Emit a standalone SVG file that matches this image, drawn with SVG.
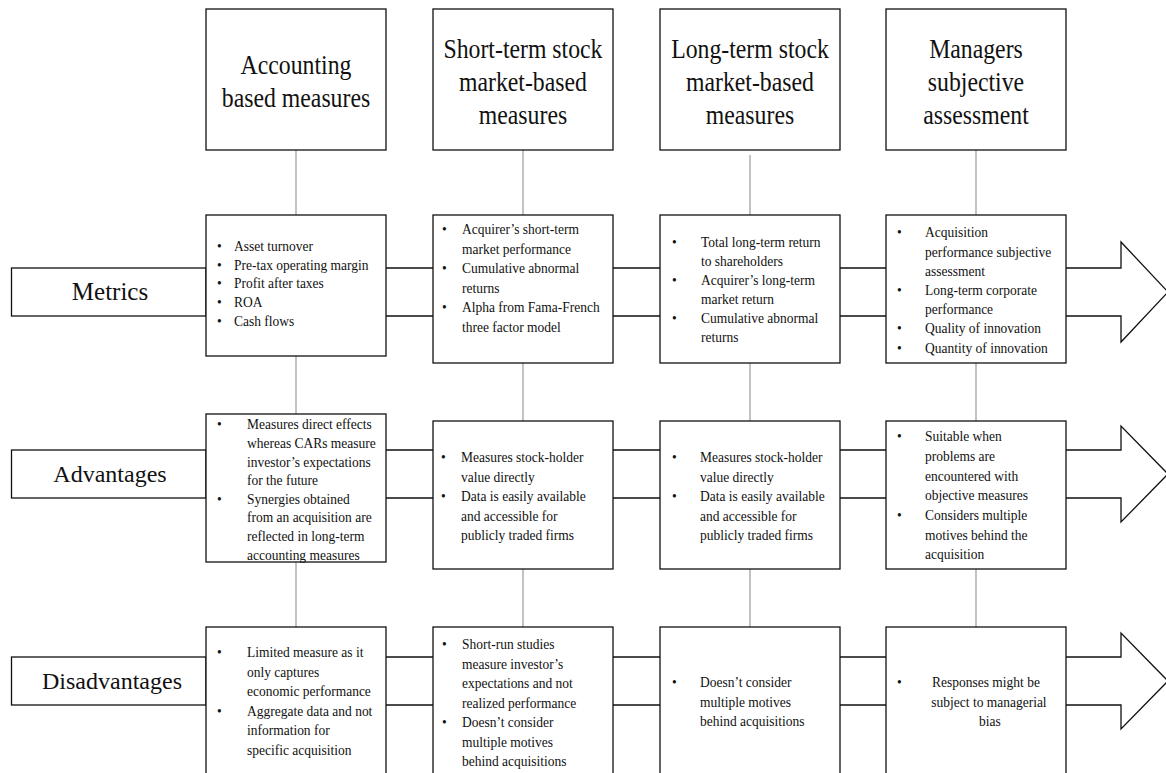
<svg xmlns="http://www.w3.org/2000/svg" width="1166" height="773" viewBox="0 0 1166 773">
<style>
.box{fill:#fff;stroke:#111;stroke-width:1.3}
.vc{stroke:#a3a3a3;stroke-width:1.3;fill:none}
.hc{stroke:#111;stroke-width:1.3;fill:none}
text{font-family:"Liberation Serif","Times New Roman",serif;fill:#111}
.h{font-size:27px;text-anchor:middle}
.lb{font-size:24px;text-anchor:middle}
.t{font-size:15px}
.c{text-anchor:middle}
</style>
<rect width="1166" height="773" fill="#fff"/>
<g id="connectors">
  <path class="vc" d="M296,150V215M296,356V414M296,562V627"/>
  <path class="vc" d="M523,150V215M523,363V421M523,569V627"/>
  <path class="vc" d="M750,155V215M750,363V421M750,569V627"/>
  <path class="vc" d="M976,150V215M976,363V421M976,569V627"/>
  <path class="hc" d="M386,268H433M386,316H433M613,268H660M613,316H660M840,268H886M840,316H886"/>
  <path class="hc" d="M386,450H433M386,498H433M613,450H660M613,498H660M840,450H886M840,498H886"/>
  <path class="hc" d="M386,657H433M386,705H433M613,657H660M613,705H660M840,657H886M840,705H886"/>
  <path class="hc" d="M1066,268H1121V242L1168,292L1121,342V316H1066"/>
  <path class="hc" d="M1066,450H1121V426L1168,474L1121,522V498H1066"/>
  <path class="hc" d="M1066,657H1121V633L1168,681L1121,729V705H1066"/>
</g>
<g id="label-metrics"><rect class="box" x="11.5" y="268" width="194.5" height="48"/><text class="lb" x="110" y="300" style="font-size:25px">Metrics</text></g>
<g id="label-advantages"><rect class="box" x="11.5" y="450" width="194.5" height="48"/><text class="lb" x="110" y="482">Advantages</text></g>
<g id="label-disadvantages"><rect class="box" x="11.5" y="657" width="194.5" height="48"/><text class="lb" x="112" y="689">Disadvantages</text></g>

<g id="head-accounting"><rect class="box" x="206" y="9" width="180" height="141"/><text class="h" transform="matrix(0.88 0 0 1 35.52 0)"><tspan x="296" y="74">Accounting</tspan><tspan x="296" y="107">based measures</tspan></text></g>
<g id="head-short"><rect class="box" x="433" y="9" width="180" height="141"/><text class="h" transform="matrix(0.88 0 0 1 62.76 0)"><tspan x="523" y="58">Short-term stock</tspan><tspan x="523" y="91">market-based</tspan><tspan x="523" y="124">measures</tspan></text></g>
<g id="head-long"><rect class="box" x="660" y="9" width="180" height="141"/><text class="h" transform="matrix(0.88 0 0 1 90 0)"><tspan x="750" y="58">Long-term stock</tspan><tspan x="750" y="91">market-based</tspan><tspan x="750" y="124">measures</tspan></text></g>
<g id="head-managers"><rect class="box" x="886" y="9" width="180" height="141"/><text class="h" transform="matrix(0.88 0 0 1 117.12 0)"><tspan x="976" y="58">Managers</tspan><tspan x="976" y="91">subjective</tspan><tspan x="976" y="124">assessment</tspan></text></g>

<g id="metrics-accounting"><rect class="box" x="206" y="215" width="180" height="141"/>
<text class="t" transform="matrix(0.9 0 0 1 21.7 0)"><tspan x="217" y="251">•</tspan><tspan x="235.9">Asset turnover</tspan><tspan x="217" y="269.7">•</tspan><tspan x="235.9">Pre-tax operating margin</tspan><tspan x="217" y="288.4">•</tspan><tspan x="235.9">Profit after taxes</tspan><tspan x="217" y="307.1">•</tspan><tspan x="235.9">ROA</tspan><tspan x="217" y="325.8">•</tspan><tspan x="235.9">Cash flows</tspan></text></g>
<g id="metrics-short"><rect class="box" x="433" y="215" width="180" height="148"/>
<text class="t" transform="matrix(0.9 0 0 1 44.2 0)"><tspan x="442" y="234.5">•</tspan><tspan x="464.2">Acquirer’s short-term</tspan><tspan x="464.2" y="254">market performance</tspan><tspan x="442" y="273.5">•</tspan><tspan x="464.2">Cumulative abnormal</tspan><tspan x="464.2" y="293">returns</tspan><tspan x="442" y="312.5">•</tspan><tspan x="464.2">Alpha from Fama-French</tspan><tspan x="464.2" y="332">three factor model</tspan></text></g>
<g id="metrics-long"><rect class="box" x="660" y="215" width="180" height="148"/>
<text class="t" transform="matrix(0.9 0 0 1 67.2 0)"><tspan x="672" y="247.5">•</tspan><tspan x="704.2">Total long-term  return</tspan><tspan x="704.2" y="266.5">to shareholders</tspan><tspan x="672" y="285.5">•</tspan><tspan x="704.2">Acquirer’s long-term</tspan><tspan x="704.2" y="304.5">market return</tspan><tspan x="672" y="323.5">•</tspan><tspan x="704.2">Cumulative abnormal</tspan><tspan x="704.2" y="342.5">returns</tspan></text></g>
<g id="metrics-managers"><rect class="box" x="886" y="215" width="180" height="148"/>
<text class="t" transform="matrix(0.9 0 0 1 89.7 0)"><tspan x="897" y="237.5">•</tspan><tspan x="928.1">Acquisition</tspan><tspan x="928.1" y="256.7">performance subjective</tspan><tspan x="928.1" y="275.9">assessment</tspan><tspan x="897" y="295.1">•</tspan><tspan x="928.1">Long-term  corporate</tspan><tspan x="928.1" y="314.3">performance</tspan><tspan x="897" y="333.5">•</tspan><tspan x="928.1">Quality of innovation</tspan><tspan x="897" y="352.7">•</tspan><tspan x="928.1">Quantity of innovation</tspan></text></g>

<g id="adv-accounting"><rect class="box" x="206" y="414" width="180" height="148"/>
<text class="t" transform="matrix(0.9 0 0 1 21.7 0)"><tspan x="217" y="429.5">•</tspan><tspan x="250.3">Measures direct effects</tspan><tspan x="250.3" y="448.1">whereas CARs measure</tspan><tspan x="250.3" y="466.7">investor’s expectations</tspan><tspan x="250.3" y="485.3">for the future</tspan><tspan x="217" y="503.9">•</tspan><tspan x="250.3">Synergies  obtained</tspan><tspan x="250.3" y="522.5">from an acquisition are</tspan><tspan x="250.3" y="541.1">reflected in long-term</tspan><tspan x="250.3" y="559.7">accounting measures</tspan></text></g>
<g id="adv-short"><rect class="box" x="433" y="421" width="180" height="148"/>
<text class="t" transform="matrix(0.9 0 0 1 44.1 0)"><tspan x="441" y="462.5">•</tspan><tspan x="463.2">Measures stock-holder</tspan><tspan x="463.2" y="482">value directly</tspan><tspan x="441" y="501.5">•</tspan><tspan x="463.2">Data is easily available</tspan><tspan x="463.2" y="521">and accessible for</tspan><tspan x="463.2" y="540.5">publicly traded firms</tspan></text></g>
<g id="adv-long"><rect class="box" x="660" y="421" width="180" height="148"/>
<text class="t" transform="matrix(0.9 0 0 1 67.2 0)"><tspan x="672" y="462.5">•</tspan><tspan x="703.1">Measures stock-holder</tspan><tspan x="703.1" y="482">value directly</tspan><tspan x="672" y="501.5">•</tspan><tspan x="703.1">Data is easily available</tspan><tspan x="703.1" y="521">and accessible for</tspan><tspan x="703.1" y="540.5">publicly traded firms</tspan></text></g>
<g id="adv-managers"><rect class="box" x="886" y="421" width="180" height="148"/>
<text class="t" transform="matrix(0.9 0 0 1 89.7 0)"><tspan x="897" y="441.5">•</tspan><tspan x="928.1">Suitable when</tspan><tspan x="928.1" y="461.1">problems are</tspan><tspan x="928.1" y="480.7">encountered with</tspan><tspan x="928.1" y="500.3">objective measures</tspan><tspan x="897" y="519.9">•</tspan><tspan x="928.1">Considers multiple</tspan><tspan x="928.1" y="539.5">motives behind the</tspan><tspan x="928.1" y="559.1">acquisition</tspan></text></g>

<g id="dis-accounting"><rect class="box" x="206" y="627" width="180" height="170"/>
<text class="t" transform="matrix(0.9 0 0 1 21.7 0)"><tspan x="217" y="657.5">•</tspan><tspan x="250.3">Limited measure as it</tspan><tspan x="250.3" y="677">only captures</tspan><tspan x="250.3" y="696.5">economic performance</tspan><tspan x="217" y="716">•</tspan><tspan x="250.3">Aggregate data and not</tspan><tspan x="250.3" y="735.5">information  for</tspan><tspan x="250.3" y="755">specific acquisition</tspan></text></g>
<g id="dis-short"><rect class="box" x="433" y="627" width="180" height="170"/>
<text class="t" transform="matrix(0.9 0 0 1 44.2 0)"><tspan x="442" y="649.5">•</tspan><tspan x="464.2">Short-run  studies</tspan><tspan x="464.2" y="669">measure investor’s</tspan><tspan x="464.2" y="688.5">expectations and not</tspan><tspan x="464.2" y="708">realized performance</tspan><tspan x="442" y="727.5">•</tspan><tspan x="464.2">Doesn’t consider</tspan><tspan x="464.2" y="747">multiple motives</tspan><tspan x="464.2" y="766.5">behind acquisitions</tspan></text></g>
<g id="dis-long"><rect class="box" x="660" y="627" width="180" height="170"/>
<text class="t" transform="matrix(0.9 0 0 1 67.2 0)"><tspan x="672" y="687.5">•</tspan><tspan x="703.1">Doesn’t consider</tspan><tspan x="703.1" y="707">multiple motives</tspan><tspan x="703.1" y="726.5">behind acquisitions</tspan></text></g>
<g id="dis-managers"><rect class="box" x="886" y="627" width="180" height="170"/>
<text class="t" transform="matrix(0.9 0 0 1 89.7 0)"><tspan x="897" y="687.5">•</tspan><tspan class="c" x="995.9" y="687.5">Responses might  be</tspan><tspan class="c" x="999.2" y="707">subject to managerial</tspan><tspan class="c" x="1000.3" y="726.5">bias</tspan></text></g>
</svg>
